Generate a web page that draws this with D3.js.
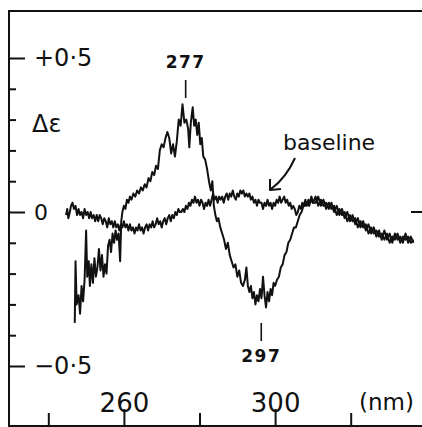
<!DOCTYPE html>
<html>
<head>
<meta charset="utf-8">
<script src="https://cdn.jsdelivr.net/npm/d3@7"></script>
<style>
  body { margin: 0; background: #fff; }
  text { font-family: "DejaVu Sans", sans-serif; fill: #111; }
</style>
</head>
<body>
<svg id="chart" width="422" height="427"></svg>
<script>
const svgEl = document.getElementById('chart')
const width = +svgEl.getAttribute('width')
const height = +svgEl.getAttribute('height')
const svg = d3.select('#chart')
const ink = '#111'

// CD trace of the sample, [wavelength nm, delta epsilon]
const sample = [
  [247.0,-0.36],[247.2,-0.16],[247.5,-0.30],[248.0,-0.27],[248.4,-0.33],[248.8,-0.24],[249.2,-0.29],[249.6,-0.22],
  [250.0,-0.06],[250.3,-0.21],[250.7,-0.16],[251.0,-0.24],[251.4,-0.17],[251.8,-0.23],[252.2,-0.15],[252.6,-0.21],
  [253.0,-0.18],[253.4,-0.12],[253.8,-0.19],[254.2,-0.14],[254.6,-0.21],[255.0,-0.17],[255.4,-0.20],[255.8,-0.11],
  [256.2,-0.09],[256.6,-0.13],[257.0,-0.07],[257.4,-0.10],[257.8,-0.06],[258.2,-0.09],[258.6,-0.07],[259.0,-0.16],
  [259.3,-0.03],[259.6,0.00],[260.0,0.02],[260.4,0.01],[260.8,0.04],[261.2,0.03],[261.6,0.05],[262.0,0.04],
  [262.5,0.06],[263.0,0.05],[263.5,0.07],[264.0,0.06],[264.5,0.08],[265.0,0.07],[265.5,0.09],[266.0,0.08],
  [266.5,0.11],[267.0,0.10],[267.5,0.13],[268.0,0.12],[268.5,0.15],[269.0,0.14],[269.5,0.20],[270.0,0.22],
  [270.5,0.21],[271.0,0.24],[271.5,0.26],[272.0,0.24],[272.5,0.19],[273.0,0.22],[273.5,0.18],[274.0,0.23],
  [274.5,0.30],[275.0,0.28],[275.5,0.35],[276.0,0.29],[276.5,0.30],[277.0,0.27],[277.3,0.21],[277.7,0.29],
  [278.2,0.34],[278.6,0.28],[279.0,0.30],[279.4,0.25],[279.8,0.29],[280.2,0.22],[280.6,0.24],[281.0,0.18],
  [281.5,0.17],[282.0,0.14],[282.5,0.10],[283.0,0.07],[283.4,0.10],[283.8,0.02],[284.2,-0.01],[284.6,-0.03],
  [285.0,-0.02],[285.5,-0.05],[286.0,-0.07],[286.5,-0.09],[287.0,-0.12],[287.5,-0.10],[288.0,-0.14],[288.5,-0.16],
  [289.0,-0.18],[289.5,-0.17],[290.0,-0.21],[290.5,-0.19],[291.0,-0.23],[291.5,-0.24],[292.0,-0.22],[292.4,-0.18],
  [292.8,-0.24],[293.2,-0.26],[293.6,-0.24],[294.0,-0.28],[294.4,-0.26],[294.8,-0.30],[295.2,-0.27],[295.6,-0.29],
  [296.0,-0.25],[296.4,-0.28],[296.8,-0.21],[297.2,-0.27],[297.6,-0.31],[298.0,-0.26],[298.4,-0.29],[298.8,-0.25],
  [299.2,-0.27],[299.6,-0.23],[300.0,-0.24],[300.5,-0.22],[301.0,-0.21],[301.5,-0.18],[302.0,-0.17],[302.5,-0.14],
  [303.0,-0.13],[303.5,-0.10],[304.0,-0.09],[304.5,-0.07],[305.0,-0.05],[305.5,-0.05],[306.0,-0.03],[306.5,-0.01],
  [307.0,0.00],[307.5,0.02],[308.0,0.02],[308.5,0.03],[309.0,0.02],[309.5,0.04],[310.0,0.03],[310.7,0.05],
  [311.4,0.02],[312.1,0.04],[312.8,0.02],[313.5,0.03],[314.2,0.01],[314.9,0.03],[315.6,0.00],[316.3,0.02],
  [317.0,-0.01],[317.7,0.01],[318.4,-0.02],[319.1,0.00],[319.8,-0.03],[320.5,-0.01],[321.2,-0.04],[321.9,-0.02],
  [322.6,-0.05],[323.3,-0.03],[324.0,-0.06],[324.7,-0.04],[325.4,-0.07],[326.1,-0.05],[326.8,-0.08],[327.5,-0.06],
  [328.2,-0.09],[328.9,-0.06],[329.6,-0.09],[330.3,-0.07],[331.0,-0.10],[331.7,-0.07],[332.4,-0.09],[333.1,-0.08],
  [333.8,-0.10],[334.5,-0.07],[335.2,-0.10],[335.9,-0.08],[336.6,-0.10]
]

// baseline trace, [wavelength nm, delta epsilon]
const baseline = [
  [244.7,-0.01],[245.0,0.01],[245.3,-0.02],[245.7,0.00],[246.0,0.02],[246.4,0.03],[246.8,0.01],[247.2,0.02],
  [247.6,-0.01],[248.0,0.01],[248.4,-0.01],[248.8,0.00],[249.2,-0.02],[249.6,0.01],[250.0,-0.01],[250.4,0.00],
  [250.8,-0.02],[251.2,0.00],[251.6,-0.02],[252.0,-0.01],[252.4,-0.03],[252.8,-0.01],[253.2,-0.03],[253.6,-0.01],
  [254.0,-0.02],[254.4,-0.04],[254.8,-0.02],[255.2,-0.03],[255.6,-0.05],[256.0,-0.02],[256.4,-0.04],[256.8,-0.03],
  [257.2,-0.05],[257.6,-0.03],[258.0,-0.05],[258.4,-0.04],[258.8,-0.06],[259.2,-0.04],[259.6,-0.05],[260.0,-0.03],
  [260.4,-0.05],[260.8,-0.04],[261.2,-0.06],[261.6,-0.04],[262.0,-0.06],[262.4,-0.05],[262.8,-0.07],[263.2,-0.05],
  [263.6,-0.06],[264.0,-0.04],[264.4,-0.06],[264.8,-0.05],[265.2,-0.07],[265.6,-0.05],[266.0,-0.04],[266.4,-0.06],
  [266.8,-0.04],[267.2,-0.05],[267.6,-0.03],[268.0,-0.05],[268.4,-0.04],[268.8,-0.02],[269.2,-0.04],[269.6,-0.03],
  [270.0,-0.05],[270.4,-0.03],[270.8,-0.02],[271.2,-0.04],[271.6,-0.02],[272.0,-0.01],[272.4,-0.03],[272.8,-0.01],
  [273.2,-0.02],[273.6,0.00],[274.0,-0.01],[274.4,0.01],[274.8,0.00],[275.2,0.00],[275.6,0.01],[276.0,0.00],
  [276.4,0.02],[276.8,0.01],[277.2,0.03],[277.6,0.02],[278.0,0.04],[278.4,0.03],[278.8,0.05],[279.2,0.03],
  [279.6,0.04],[280.0,0.02],[280.4,0.04],[280.8,0.03],[281.2,0.01],[281.6,0.03],[282.0,0.02],[282.4,0.04],
  [282.8,0.02],[283.2,0.04],[283.6,0.06],[284.0,0.04],[284.4,0.05],[284.8,0.03],[285.2,0.05],[285.6,0.04],
  [286.0,0.05],[286.4,0.03],[286.8,0.05],[287.2,0.06],[287.6,0.04],[288.0,0.06],[288.4,0.05],[288.8,0.07],
  [289.2,0.05],[289.6,0.04],[290.0,0.06],[290.4,0.05],[290.8,0.07],[291.2,0.06],[291.6,0.07],[292.0,0.05],
  [292.4,0.06],[292.8,0.05],[293.2,0.06],[293.6,0.04],[294.0,0.05],[294.4,0.03],[294.8,0.04],[295.2,0.02],
  [295.6,0.04],[296.0,0.03],[296.4,0.03],[296.8,0.01],[297.2,0.03],[297.6,0.02],[298.0,0.04],[298.4,0.02],
  [298.8,0.03],[299.2,0.01],[299.6,0.03],[300.0,0.02],[300.4,0.04],[300.8,0.03],[301.2,0.05],[301.6,0.03],
  [302.0,0.04],[302.4,0.05],[302.8,0.03],[303.2,0.04],[303.6,0.02],[304.0,0.03],[304.4,0.01],[304.8,0.02],
  [305.2,0.01],[305.6,-0.01],[306.0,0.00],[306.4,0.02],[306.8,0.01],[307.2,0.03],[307.6,0.02],[308.0,0.04],
  [308.4,0.02],[308.8,0.04],[309.2,0.03],[309.6,0.05],[310.0,0.03],[310.7,0.03],[311.4,0.05],[312.1,0.02],
  [312.8,0.04],[313.5,0.01],[314.2,0.03],[314.9,0.01],[315.6,0.02],[316.3,-0.01],[317.0,0.01],[317.7,-0.01],
  [318.4,0.00],[319.1,-0.03],[319.8,-0.01],[320.5,-0.03],[321.2,-0.02],[321.9,-0.05],[322.6,-0.03],[323.3,-0.05],
  [324.0,-0.04],[324.7,-0.07],[325.4,-0.05],[326.1,-0.07],[326.8,-0.06],[327.5,-0.08],[328.2,-0.07],[328.9,-0.09],
  [329.6,-0.07],[330.3,-0.10],[331.0,-0.08],[331.7,-0.09],[332.4,-0.07],[333.1,-0.10],[333.8,-0.08],[334.5,-0.09],
  [335.2,-0.08],[335.9,-0.10],[336.6,-0.09]
]

const yMajor = [0.5, 0, -0.5]
const yMajorLabels = ['+0·5', '0', '−0·5']
const yMinor = [0.4, 0.3, 0.2, 0.1, -0.1, -0.2, -0.3, -0.4]
const xMajor = [260, 300]
const xMinor = [240, 280, 320]
const peaks = [[277, '277', 'up'], [297, '297', 'down']]

const xScale = d3.scaleLinear()
  .domain([229.6, 340])
  .range([9, 426.3])

const yScale = d3.scaleLinear()
  .domain([-0.5, 0.5])
  .range([366, 58])

const frameLeft = 9, frameTop = 11, frameBottom = 426

// frame
svg.append('path')
  .attr('d', `M${width},${frameTop} H${frameLeft} V${height} M${frameLeft},${frameBottom} H${width}`)
  .attr('fill', 'none')
  .attr('stroke', ink)
  .attr('stroke-width', 2)

// y ticks point inward from the left edge
const yAxisMajor = d3.axisRight(yScale)
  .tickValues(yMajor)
  .tickSize(16)
  .tickPadding(9)
  .tickFormat((d, i) => yMajorLabels[i])

svg.append('g')
  .attr('transform', `translate(${frameLeft},0)`)
  .call(yAxisMajor)
  .call(g => g.select('.domain').remove())
  .call(g => g.selectAll('.tick line').attr('stroke', ink).attr('stroke-width', 2))
  .call(g => g.selectAll('.tick text')
    .attr('font-family', 'DejaVu Sans')
    .attr('font-size', d => d === 0 ? 22 : 24)
    .attr('fill', ink))

svg.append('g')
  .attr('transform', `translate(${frameLeft},0)`)
  .call(d3.axisRight(yScale).tickValues(yMinor).tickSize(7).tickFormat(''))
  .call(g => g.select('.domain').remove())
  .call(g => g.selectAll('.tick line').attr('stroke', ink).attr('stroke-width', 2))

// right-hand zero tick
svg.append('line')
  .attr('x1', 411).attr('x2', width)
  .attr('y1', yScale(0)).attr('y2', yScale(0))
  .attr('stroke', ink).attr('stroke-width', 2)

// x ticks point up from the bottom edge
svg.append('g')
  .attr('transform', `translate(0,${frameBottom})`)
  .call(d3.axisTop(xScale).tickValues(xMajor).tickSize(17).tickPadding(-3))
  .call(g => g.select('.domain').remove())
  .call(g => g.selectAll('.tick line').attr('stroke', ink).attr('stroke-width', 2))
  .call(g => g.selectAll('.tick text')
    .attr('font-family', 'DejaVu Sans')
    .attr('font-size', 26)
    .attr('fill', ink))

svg.append('g')
  .attr('transform', `translate(0,${frameBottom})`)
  .call(d3.axisTop(xScale).tickValues(xMinor).tickSize(13).tickFormat(''))
  .call(g => g.select('.domain').remove())
  .call(g => g.selectAll('.tick line').attr('stroke', ink).attr('stroke-width', 2))

svg.append('text')
  .attr('x', 359).attr('y', 410)
  .attr('font-size', 23)
  .text('(nm)')

svg.append('text')
  .attr('x', 32).attr('y', 132)
  .attr('font-size', 24)
  .text('Δε')

// traces
const line = d3.line()
  .x(d => xScale(d[0]))
  .y(d => yScale(d[1]))

svg.selectAll('path.trace')
  .data([sample, baseline])
  .enter()
  .append('path')
  .attr('class', 'trace')
  .attr('d', line)
  .attr('fill', 'none')
  .attr('stroke', ink)
  .attr('stroke-width', 2)
  .attr('stroke-linejoin', 'round')

// peak markers
peaks.forEach(([nm, label, dir]) => {
  const x = xScale(nm) - 2.5
  if (dir === 'up') {
    svg.append('line').attr('x1', x).attr('x2', x).attr('y1', 80).attr('y2', 98)
      .attr('stroke', ink).attr('stroke-width', 1.6)
    svg.append('text').attr('x', x).attr('y', 68)
      .attr('text-anchor', 'middle').attr('font-size', 17).attr('font-weight', 'bold')
      .attr('letter-spacing', 1.5).text(label)
  } else {
    svg.append('line').attr('x1', x).attr('x2', x).attr('y1', 323).attr('y2', 341)
      .attr('stroke', ink).attr('stroke-width', 1.6)
    svg.append('text').attr('x', x).attr('y', 362)
      .attr('text-anchor', 'middle').attr('font-size', 17).attr('font-weight', 'bold')
      .attr('letter-spacing', 1.5).text(label)
  }
})

// baseline label with arrow
svg.append('text')
  .attr('x', 283).attr('y', 150)
  .attr('font-size', 22)
  .text('baseline')

svg.append('path')
  .attr('d', 'M295,158 Q286,178 271,189')
  .attr('fill', 'none').attr('stroke', ink).attr('stroke-width', 2)

svg.append('path')
  .attr('d', 'M270,179 L270,190 L281,189')
  .attr('fill', 'none').attr('stroke', ink).attr('stroke-width', 2)
  .attr('stroke-linejoin', 'round')
</script>
</body>
</html>
